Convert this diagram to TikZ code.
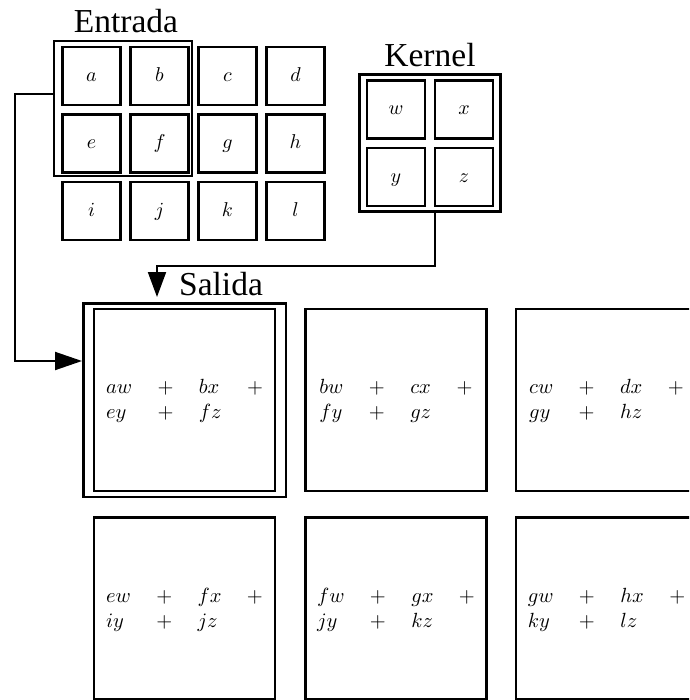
\RequirePackage{fix-cm}
\documentclass[tikz,border=0pt]{standalone}
\usepackage{fontspec}
\usepackage{graphicx}
\newfontfamily\labelfont{Liberation Serif}
\usetikzlibrary{arrows.meta}

% math set at 10pt and enlarged, which keeps the heavier 10pt design
\newcommand\bigmath[2]{\scalebox{#1}{\fontsize{10}{12.2}\selectfont #2}}
% one output cell: two rows of products joined by plus signs
\newcommand\convsum[4]{\bigmath{2.05}{\setlength\arraycolsep{6.2pt}%
  $\begin{array}{lclc}#1 & + & #2 & +\\ #3 & + & #4\end{array}$}}

\tikzset{
  cell/.style={draw, line width=2.8pt, minimum size=58pt, inner sep=0pt,
    text height=11pt, text depth=0pt},
  outbox/.style={draw, line width=2.5pt, minimum width=181pt, minimum height=182pt,
    inner sep=0pt},
  sum/.style={inner sep=0pt},
  frame/.style={draw, inner sep=0pt},
  title/.style={font=\labelfont\fontsize{33.5}{40}\selectfont, anchor=base, inner sep=0pt},
  conn/.style={line width=2pt},
}

\begin{document}
\begin{tikzpicture}[x=1pt, y=-1pt]
\useasboundingbox (0,0) rectangle (689,700);
\clip (0,0) rectangle (689,700);

% input matrix
\node[cell] (a) at (91.5,76) {\bigmath{2}{$a$}};
\node[cell] (b) at (159.5,76) {\bigmath{2}{$b$}};
\node[cell] (c) at (227.5,76) {\bigmath{2}{$c$}};
\node[cell] (d) at (295.5,76) {\bigmath{2}{$d$}};
\node[cell] (e) at (91.5,143.5) {\bigmath{2}{$e$}};
\node[cell] (f) at (159.5,143.5) {\bigmath{2}{$f$}};
\node[cell] (g) at (227.5,143.5) {\bigmath{2}{$g$}};
\node[cell] (h) at (295.5,143.5) {\bigmath{2}{$h$}};
\node[cell] (i) at (91.5,211) {\bigmath{2}{$i$}};
\node[cell] (j) at (159.5,211) {\bigmath{2}{$j$}};
\node[cell] (k) at (227.5,211) {\bigmath{2}{$k$}};
\node[cell] (l) at (295.5,211) {\bigmath{2}{$l$}};
\node[frame, line width=2pt, minimum width=138pt, minimum height=135pt]
  (entrada) at (123,108.5) {};
\node[title] (entradalbl) at (126,33) {Entrada};

% kernel
\node[cell] (w) at (396,109.5) {\bigmath{2}{$w$}};
\node[cell] (x) at (464,109.5) {\bigmath{2}{$x$}};
\node[cell] (y) at (396,177) {\bigmath{2}{$y$}};
\node[cell] (z) at (464,177) {\bigmath{2}{$z$}};
\node[frame, line width=3pt, minimum width=141pt, minimum height=137pt]
  (kernel) at (430,143) {};
\node[title] (kernellbl) at (430,67) {Kernel};

% output cells
\node[outbox] (o1) at (184.5,400) {};
\node[outbox] (o2) at (396,400) {};
\node[outbox] (o3) at (606.5,400) {};
\node[outbox] (o4) at (184.5,608.5) {};
\node[outbox] (o5) at (396,608.5) {};
\node[outbox] (o6) at (606.5,608.5) {};
\node[sum] (s1) at ([yshift=-1pt]o1) {\convsum{aw}{bx}{ey}{fz}};
\node[sum] (s2) at ([yshift=-1pt]o2) {\convsum{bw}{cx}{fy}{gz}};
\node[sum] (s3) at ([yshift=-1pt]o3) {\convsum{cw}{dx}{gy}{hz}};
\node[sum] (s4) at ([yshift=-1pt]o4) {\convsum{ew}{fx}{iy}{jz}};
\node[sum] (s5) at ([yshift=-1pt]o5) {\convsum{fw}{gx}{jy}{kz}};
\node[sum] (s6) at ([yshift=-1pt]o6) {\convsum{gw}{hx}{ky}{lz}};
\node[frame, line width=2.5pt, minimum width=202.5pt, minimum height=193.5pt]
  (salida) at (184.5,400) {};
\node[title] (salidalbl) at (221,295) {Salida};

% connectors
\draw[conn, -{Triangle[length=27pt, width=18pt]}]
  ([yshift=14.5pt]entrada.west) -- ++(-38,0) |- ([yshift=39pt]salida.west);
\draw[conn, -{Triangle[length=25pt, width=18pt]}]
  ([xshift=5pt]kernel.south) -- ++(0,53) -| ([xshift=-27.5pt, yshift=5pt]salida.north);
\end{tikzpicture}
\end{document}
